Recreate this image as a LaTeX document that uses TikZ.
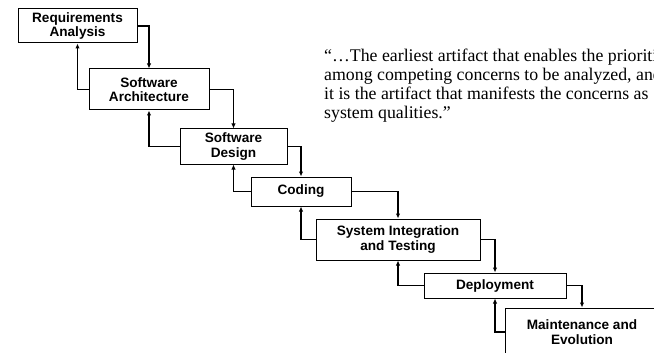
\documentclass[tikz,border=0pt]{standalone}
\usepackage{fontspec}
\setmainfont{Liberation Sans}
\newfontfamily\quotefont{Liberation Serif}
\usetikzlibrary{arrows.meta}

\begin{document}
\begin{tikzpicture}[x=1pt,y=-1pt,
    phase/.style={draw,line width=1pt,fill=white,align=center,inner sep=0pt,
      font=\fontsize{13.6}{14.3}\selectfont\bfseries},
    flow/.style={-{Latex[length=5pt,width=4.5pt]},line width=1.2pt}]
    \useasboundingbox (0,0) rectangle (654,353);
    \clip (0,0) rectangle (654,353);
    % the phases
    \node[phase,minimum width=119,minimum height=34] (req) at (77.5,26) {Requirements\\Analysis};
    \node[phase,minimum width=120,minimum height=41] (arch) at (149,89.5) {Software\\Architecture};
    \node[phase,minimum width=107,minimum height=35] (des) at (233.5,146.5) {Software\\Design};
    \node[phase,minimum width=100,minimum height=29] (cod) at (301,191.5) {Coding};
    \node[phase,minimum width=164,minimum height=41] (integ) at (398,239.5) {System Integration\\and Testing};
    \node[phase,minimum width=142,minimum height=25] (dep) at (495,285.5) {Deployment};
    \node[phase,minimum width=154,minimum height=48] (maint) at (582,332) {Maintenance and\\Evolution};
    % forward and feedback
    \foreach \a/\b in {req/arch,arch/des,des/cod,cod/integ,integ/dep,dep/maint} {
      \draw[flow] (\a.east) -| (\b.north);
      \draw[flow] (\b.west) -| (\a.south);
    }
    \node[anchor=north west,align=left,inner sep=0pt,
      font=\quotefont\fontsize{17.8}{19.3}\selectfont] (quote) at (324,48.3)
      {“…The earliest artifact that enables the prioritization\\
       among competing concerns to be analyzed, and\\
       it is the artifact that manifests the concerns as\\
       system qualities.”};
\end{tikzpicture}
\end{document}
